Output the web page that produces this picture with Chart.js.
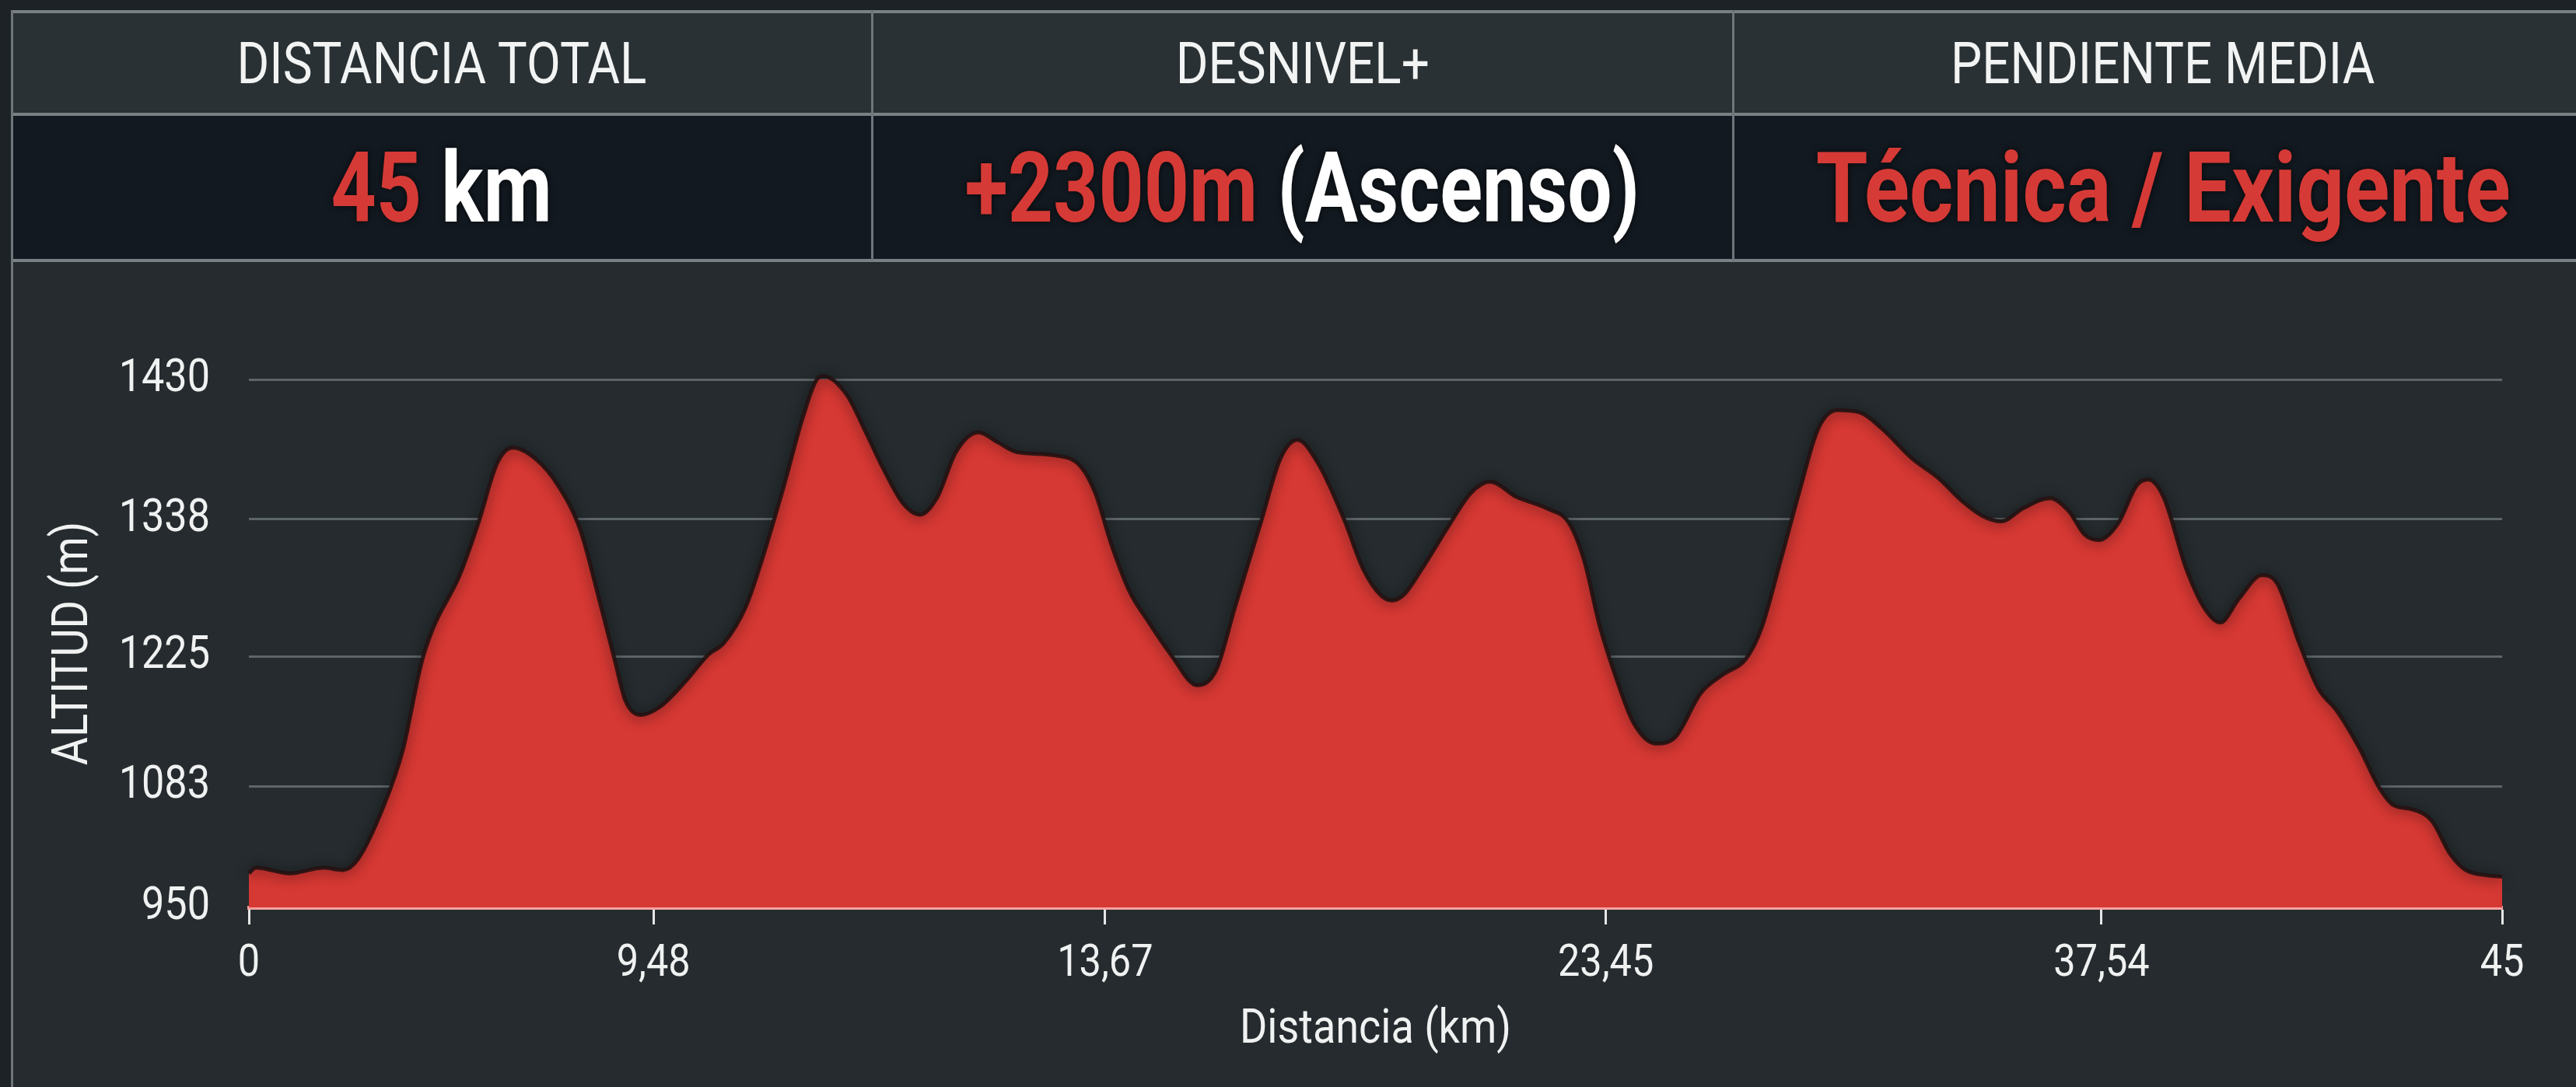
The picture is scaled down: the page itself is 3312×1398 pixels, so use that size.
<!DOCTYPE html>
<html lang="es">
<head>
<meta charset="utf-8">
<title>Perfil de altitud</title>
<script src="https://cdn.jsdelivr.net/npm/chart.js@4.4.1/dist/chart.umd.min.js"></script>
<style>
  html, body { margin: 0; padding: 0; }
  body {
    width: 3312px; height: 1398px; overflow: hidden; position: relative;
    background: #1c2226; font-family: Roboto, 'Noto Sans', sans-serif;
  }
  .row1 { position: absolute; left: 15px; top: 15px; width: 3297px; height: 132px; background: #2a3134; }
  .row2 { position: absolute; left: 15px; top: 147px; width: 3297px; height: 188px; background: #121920; }
  .panel { position: absolute; left: 15px; top: 335px; width: 3297px; height: 1063px; background: #252b2e; }
  .hline { position: absolute; left: 15px; width: 3297px; height: 4px; background: #7a8185; }
  .vline { position: absolute; width: 3px; background: #6f767a; }
  .cell { position: absolute; display: flex; align-items: center; justify-content: center; white-space: nowrap; }
  .label { top: 15px; height: 132px; color: #f2f4f4; font-size: 75px; font-weight: 400; }
  .value { top: 147px; height: 188px; color: #ffffff; font-size: 127px; font-weight: 700;
           text-shadow: 0 0 10px rgba(0,0,0,0.7); }
  .label span { display: inline-block; transform: scaleX(0.85); }
  .value span.sq { display: inline-block; transform: scaleX(0.8); }
  .value span.wide { transform: scaleX(0.85); }
  .red { color: #d63a36; }
  #chartBox { position: absolute; left: 0; top: 335px; width: 3312px; height: 1063px; }
</style>
</head>
<body>
<div class="row1"></div>
<div class="row2"></div>
<div class="panel"></div>
<div class="hline" style="top:13px"></div>
<div class="hline" style="top:145px"></div>
<div class="hline" style="top:333px"></div>
<div class="vline" style="left:14px; top:13px; height:1385px"></div>
<div class="vline" style="left:1120px; top:13px; height:322px"></div>
<div class="vline" style="left:2227px; top:13px; height:322px"></div>

<div class="cell label" style="left:15px; width:1106px"><span>DISTANCIA TOTAL</span></div>
<div class="cell label" style="left:1121px; width:1107px"><span>DESNIVEL+</span></div>
<div class="cell label" style="left:2228px; width:1106px"><span>PENDIENTE MEDIA</span></div>

<div class="cell value" style="left:15px; width:1106px"><span class="sq"><span class="red">45</span> km</span></div>
<div class="cell value" style="left:1121px; width:1107px"><span class="sq"><span class="red">+2300m</span> (Ascenso)</span></div>
<div class="cell value" style="left:2228px; width:1106px"><span class="sq wide red">Técnica / Exigente</span></div>

<div id="chartBox"><canvas id="profileChart" width="3312" height="1063"></canvas></div>

<script>
// perfil: distancia (km) y altitud (m)
const distanceKm = [
    0, 0.14, 0.82, 1.49, 1.88, 2.18, 2.70, 3.08, 3.45, 3.68,
    4.21, 4.58, 4.96, 5.27, 5.72, 6.17, 6.62, 6.99, 7.30, 7.52,
    7.82, 8.20, 8.73, 9.18, 9.48, 9.93, 10.24, 10.69, 11.06, 11.36,
    11.48, 11.94, 12.32, 12.69, 13.07, 13.41, 13.75, 14.12, 14.57, 14.95,
    15.33, 16.08, 16.61, 16.91, 17.21, 17.58, 17.96, 18.41, 18.94, 19.32,
    19.70, 20.23, 20.60, 20.94, 21.35, 21.87, 22.25, 22.60, 22.83, 23.06,
    23.43, 23.95, 24.41, 24.79, 25.32, 25.91, 26.37, 26.67, 26.97, 27.28,
    27.65, 28.10, 28.47, 29.00, 29.45, 29.90, 30.21, 30.59, 30.96, 31.34,
    31.72, 32.17, 32.62, 33.22, 33.75, 34.20, 34.62, 35.00, 35.44, 35.97,
    36.35, 36.66, 36.95, 37.33, 37.71, 37.93, 38.24, 38.69, 39.07, 39.37,
    39.75, 40.20, 40.50, 40.95, 41.33, 41.71, 42.16, 42.53, 42.83, 43.21,
    43.59, 43.97, 44.27, 44.72, 45.00
];
const altitudeM = [
    981, 986, 981, 986, 984, 994, 1043, 1094, 1173, 1204,
    1252, 1299, 1354, 1368, 1358, 1334, 1293, 1231, 1176, 1138,
    1125, 1132, 1156, 1180, 1190, 1224, 1265, 1334, 1395, 1431,
    1433, 1416, 1382, 1347, 1317, 1307, 1323, 1364, 1382, 1373,
    1364, 1361, 1351, 1326, 1282, 1238, 1210, 1180, 1152, 1166,
    1224, 1303, 1358, 1375, 1354, 1303, 1258, 1234, 1229, 1234,
    1258, 1296, 1327, 1337, 1323, 1313, 1299, 1265, 1207, 1162,
    1118, 1099, 1104, 1145, 1162, 1176, 1204, 1265, 1327, 1385,
    1402, 1400, 1385, 1358, 1340, 1320, 1306, 1301, 1313, 1322,
    1310, 1289, 1284, 1299, 1334, 1339, 1323, 1258, 1221, 1209,
    1231, 1252, 1245, 1190, 1149, 1128, 1094, 1060, 1043, 1039,
    1029, 998, 984, 979, 978
];

// marcas de los ejes tal como aparecen en la imagen
const xTickValues = [0, 8.08, 17.1, 27.1, 37.0, 45];
const xTickLabels = ['0', '9,48', '13,67', '23,45', '37,54', '45'];
const yTickValues = [950, 1060, 1178, 1303, 1430];
const yTickLabels = ['950', '1083', '1225', '1338', '1430'];

const axisFont = "Roboto, 'Noto Sans', sans-serif";
const textSqueeze = 0.87;

// the reference uses a condensed face: squeeze canvas text horizontally around its anchor
const condensedTextPlugin = {
    id: 'condensedText',
    beforeInit(chart) {
        const c = chart.ctx;
        const fill = c.fillText.bind(c);
        c.fillText = function (text, x, y, maxWidth) {
            c.save();
            c.translate(x, y);
            c.scale(textSqueeze, 1);
            fill(text, 0, 0);
            c.restore();
        };
    }
};

const shadowPlugin = {
    id: 'areaShadow',
    beforeDatasetDraw(chart) {
        const c = chart.ctx;
        c.save();
        c.shadowColor = 'rgba(0, 0, 0, 0.7)';
        c.shadowBlur = 16;
        c.shadowOffsetY = 2;
    },
    afterDatasetDraw(chart) {
        chart.ctx.restore();
    }
};

const points = distanceKm.map((km, i) => ({ x: km, y: altitudeM[i] }));

const ctx = document.getElementById('profileChart').getContext('2d');
new Chart(ctx, {
    type: 'line',
    data: {
        datasets: [{
            label: 'Altitud',
            data: points,
            fill: 'start',
            backgroundColor: '#d63833',
            borderColor: 'rgba(35, 18, 18, 0.9)',
            borderWidth: 5,
            pointRadius: 0,
            cubicInterpolationMode: 'monotone',
            clip: false
        }]
    },
    options: {
        responsive: false,
        devicePixelRatio: 1,
        animation: false,
        layout: { padding: { top: 153, right: 95, left: 0, bottom: 0 } },
        plugins: { legend: { display: false }, tooltip: { enabled: false } },
        scales: {
            x: {
                type: 'linear',
                min: 0,
                max: 45,
                afterFit: (scale) => { scale.height = 231; },
                afterBuildTicks: (scale) => { scale.ticks = xTickValues.map(v => ({ value: v })); },
                ticks: {
                    autoSkip: false,
                    maxRotation: 0,
                    padding: 22,
                    color: '#f0f2f2',
                    font: { family: axisFont, size: 58, lineHeight: 1 },
                    callback: (value, index) => xTickLabels[index]
                },
                grid: {
                    drawOnChartArea: false,
                    drawTicks: true,
                    tickLength: 22,
                    tickColor: '#e6e6e6',
                    tickWidth: 3
                },
                border: { display: true, color: '#f3a2a2', width: 5 },
                title: {
                    display: true,
                    text: 'Distancia (km)',
                    color: '#f0f2f2',
                    font: { family: axisFont, size: 62, lineHeight: 1 },
                    padding: { top: 0, bottom: 42 }
                }
            },
            y: {
                type: 'linear',
                min: 950,
                max: 1430,
                afterFit: (scale) => { scale.width = 320; },
                afterBuildTicks: (scale) => { scale.ticks = yTickValues.map(v => ({ value: v })); },
                ticks: {
                    padding: 50,
                    color: '#f0f2f2',
                    font: { family: axisFont, size: 60, lineHeight: 1 },
                    callback: (value, index) => yTickLabels[index]
                },
                grid: { color: '#5d6568', lineWidth: 3, drawTicks: false },
                border: { display: false },
                title: {
                    display: true,
                    text: 'ALTITUD (m)',
                    color: '#f0f2f2',
                    font: { family: axisFont, size: 64, lineHeight: 1 },
                    padding: { top: 64, bottom: 0 }
                }
            }
        }
    },
    plugins: [condensedTextPlugin, shadowPlugin]
});
</script>
</body>
</html>
